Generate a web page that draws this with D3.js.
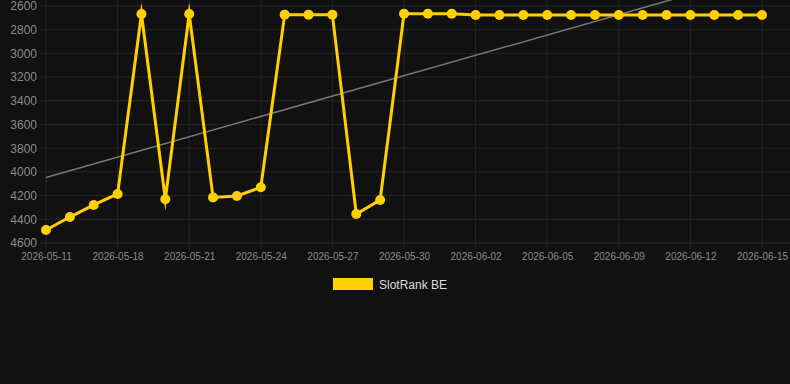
<!DOCTYPE html>
<html>
<head>
<meta charset="utf-8">
<script src="https://cdn.jsdelivr.net/npm/d3@7"></script>
<style>
  html, body { margin: 0; padding: 0; background: #111111; }
  svg { display: block; }
</style>
</head>
<body>
<svg id="chart" width="790" height="384"></svg>
<script>
const dates = ["2026-05-11","2026-05-13","2026-05-15","2026-05-18","2026-05-19","2026-05-20","2026-05-21","2026-05-22","2026-05-23","2026-05-24","2026-05-25","2026-05-26","2026-05-27","2026-05-28","2026-05-29","2026-05-30","2026-05-31","2026-06-01","2026-06-02","2026-06-03","2026-06-04","2026-06-05","2026-06-06","2026-06-07","2026-06-09","2026-06-10","2026-06-11","2026-06-12","2026-06-13","2026-06-14","2026-06-15"];
const ranks = [4490,4381,4279,4186,2667,4231,2667,4215,4203,4130,2673,2673,2673,4355,4237,2665,2665,2665,2676,2676,2676,2676,2676,2676,2676,2676,2676,2676,2676,2676,2676];
const yTicks = [2600,2800,3000,3200,3400,3600,3800,4000,4200,4400,4600];
const seriesName = "SlotRank BE";

const svg = d3.select("#chart");
const gold = "#ffd000";
const gridColor = "#262626";

const x = d3.scalePoint().domain(dates).range([46, 762]);
const y = d3.scaleLinear().domain([2600, 4600]).range([6, 243]);

// horizontal grid
svg.append("g").selectAll("line").data(yTicks).join("line")
  .attr("x1", 40).attr("x2", 790)
  .attr("y1", d => y(d)).attr("y2", d => y(d))
  .attr("stroke", (d, i) => i === yTicks.length - 1 ? "#333" : gridColor)
  .attr("stroke-width", 1);

// vertical grid at labeled ticks
const labeled = dates.filter((d, i) => i % 3 === 0);
svg.append("g").selectAll("line").data(labeled).join("line")
  .attr("x1", d => x(d)).attr("x2", d => x(d))
  .attr("y1", 0).attr("y2", 249)
  .attr("stroke", gridColor).attr("stroke-width", 1);

// y axis labels
const yAxis = d3.axisLeft(y).tickValues(yTicks).tickSize(0).tickPadding(0).tickFormat(d3.format("d"));
const gy = svg.append("g").attr("transform", "translate(37,0)").call(yAxis);
gy.select(".domain").remove();
gy.selectAll("text").attr("fill", "#8a8a8a").attr("font-family", "Liberation Sans, Arial, sans-serif").attr("font-size", 12);

// x axis labels
const xAxis = d3.axisBottom(x).tickValues(labeled).tickSize(0).tickPadding(0);
const gx = svg.append("g").attr("transform", "translate(0,253)").call(xAxis);
gx.select(".domain").remove();
gx.selectAll("text").attr("fill", "#8a8a8a").attr("font-family", "Liberation Sans, Arial, sans-serif").attr("font-size", 10).attr("dy", "0.71em");

// regression trend line
const n = ranks.length;
const idx = d3.range(n);
const mx = d3.mean(idx), my = d3.mean(ranks);
const slope = d3.sum(idx, i => (i - mx) * (ranks[i] - my)) / d3.sum(idx, i => (i - mx) * (i - mx));
const intercept = my - slope * mx;
svg.append("line")
  .attr("x1", x(dates[0])).attr("y1", y(intercept))
  .attr("x2", x(dates[n - 1])).attr("y2", y(intercept + slope * (n - 1)))
  .attr("stroke", "#777").attr("stroke-width", 1.5);

// data line
const line = d3.line().x((d, i) => x(dates[i])).y(d => y(d));
svg.append("path").datum(ranks)
  .attr("d", line).attr("fill", "none")
  .attr("stroke", gold).attr("stroke-width", 3)
  .attr("stroke-linejoin", "miter").attr("stroke-miterlimit", 10);

svg.append("g").selectAll("circle").data(ranks).join("circle")
  .attr("cx", (d, i) => x(dates[i])).attr("cy", d => y(d))
  .attr("r", 5).attr("fill", gold);

// legend
svg.append("rect").attr("x", 333).attr("y", 278).attr("width", 40).attr("height", 12).attr("fill", gold);
svg.append("text").attr("x", 379).attr("y", 289)
  .attr("fill", "#dddddd").attr("font-family", "Liberation Sans, Arial, sans-serif").attr("font-size", 12)
  .text(seriesName);
</script>
</body>
</html>
